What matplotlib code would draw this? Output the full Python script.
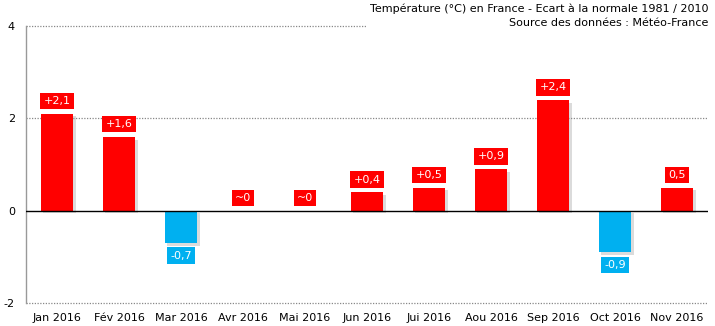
import numpy as np
import matplotlib
matplotlib.use("Agg")
import matplotlib.pyplot as plt
import matplotlib.patheffects as pe

# monthly temperature anomaly vs 1981-2010 normal
months = ["Jan 2016", "Fév 2016", "Mar 2016", "Avr 2016", "Mai 2016", "Jun 2016",
          "Jui 2016", "Aou 2016", "Sep 2016", "Oct 2016", "Nov 2016"]
anomaly = [2.1, 1.6, -0.7, 0.0, 0.0, 0.4, 0.5, 0.9, 2.4, -0.9, 0.5]
labels = ["+2,1", "+1,6", "-0,7", "~0", "~0", "+0,4", "+0,5", "+0,9", "+2,4", "-0,9", "0,5"]
yticks = [-2, 0, 2, 4]

RED = "#FF0000"
BLUE = "#00B0F0"

plt.rcParams["font.family"] = "DejaVu Sans"

fig = plt.figure(figsize=(7.15, 3.26), dpi=100)
W, H = 715, 326
ax = fig.add_axes([26 / W, (H - 303) / H, (708 - 26) / W, (303 - 26) / H])

x = np.arange(len(months))
colors = [RED if v >= 0 else BLUE for v in anomaly]
bars = ax.bar(x, anomaly, width=0.53, color=colors, zorder=3)
for b in bars:
    b.set_path_effects([pe.SimplePatchShadow(offset=(2, -2), shadow_rgbFace="#999999", alpha=0.35),
                        pe.Normal()])

# value boxes above positive bars, below negative ones
for xi, v, lab, c in zip(x, anomaly, labels, colors):
    if v >= 0:
        off, va = 5.5, "bottom"
    else:
        off, va = -5.5, "top"
    ax.annotate(lab, (xi, v), xytext=(0, off), textcoords="offset points",
                ha="center", va=va, color="white", fontsize=8, zorder=5,
                bbox=dict(boxstyle="square,pad=0.3", fc=c, ec="none"))

ax.set_xlim(-0.5, len(months) - 0.5)
ax.set_ylim(-2, 4)
ax.set_yticks(yticks)
ax.set_yticklabels([str(t) for t in yticks])
ax.set_xticks(x)
ax.set_xticklabels(months)
ax.tick_params(axis="both", length=0, labelsize=8, colors="black")
ax.tick_params(axis="x", pad=7)
ax.tick_params(axis="y", pad=8)

for t in [-2, 2, 4]:
    ax.axhline(t, color="#888888", lw=0.9, ls=(0, (1, 1.2)), zorder=1, clip_on=False)
ax.axhline(0, color="black", lw=1, zorder=4)

for s in ["top", "right", "bottom"]:
    ax.spines[s].set_visible(False)
ax.spines["left"].set_color("#999999")
ax.spines["left"].set_linewidth(1)

fig.text(708 / W, 1 - 4 / H,
         "Température (°C) en France - Ecart à la normale 1981 / 2010\nSource des données : Météo-France",
         ha="right", va="top", fontsize=8, linespacing=1.4,
         bbox=dict(boxstyle="square,pad=0.3", fc="white", ec="none"), zorder=10)

fig.savefig("out.png", dpi=100)
